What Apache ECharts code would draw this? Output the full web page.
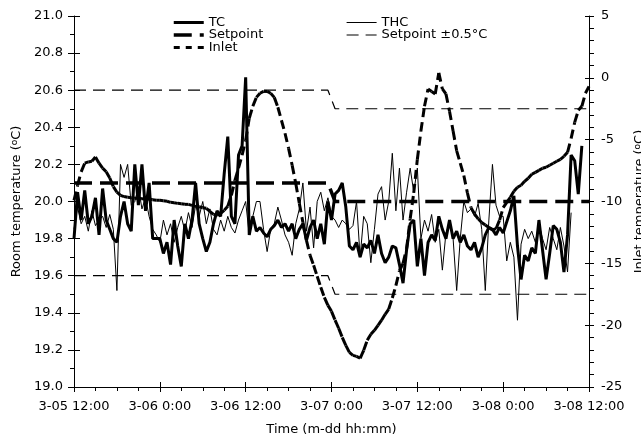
<!DOCTYPE html>
<html>
<head>
<meta charset="utf-8">
<script src="https://cdn.jsdelivr.net/npm/echarts@6/dist/echarts.min.js"></script>
<style>html,body{margin:0;padding:0;background:#fff}#c{width:641px;height:445px}</style>
</head>
<body>
<div id="c"></div>
<script>
// hours since 3-05 12:00, sampled every 0.5 h
var timeLabels = ['3-05 12:00','3-06 0:00','3-06 12:00','3-07 0:00','3-07 12:00','3-08 0:00','3-08 12:00'];
var stepHours = 0.5;

// TC room temperature (°C), left axis
var tc = [
 19.80,20.05,19.90,20.06,19.88,19.92,20.02,19.82,20.07,19.90,19.85,19.80,19.78,19.92,20.00,19.88,19.84,20.20,19.98,20.20,19.95,20.10,19.80,19.80,19.80,
 19.72,19.78,19.66,19.90,19.76,19.65,19.88,19.80,19.90,20.10,19.88,19.80,19.73,19.78,19.88,19.95,19.92,20.15,20.35,19.92,19.88,20.25,20.30,20.67,
 19.82,19.92,19.84,19.86,19.83,19.81,19.85,19.87,19.90,19.86,19.88,19.84,19.88,19.80,19.85,19.88,19.79,19.86,19.90,19.80,19.88,19.77,20.00,19.90,20.04,20.06,20.10,
 19.97,19.76,19.74,19.78,19.70,19.77,19.75,19.79,19.72,19.82,19.72,19.67,19.70,19.76,19.75,19.66,19.56,19.74,19.88,19.90,19.65,19.80,19.60,19.78,19.82,
 19.79,19.92,19.85,19.80,19.90,19.80,19.84,19.78,19.82,19.76,19.74,19.78,19.70,19.75,19.82,19.86,19.85,19.82,19.86,19.83,19.89,19.95,20.03,
 19.76,19.58,19.71,19.68,19.75,19.72,19.90,19.74,19.58,19.72,19.87,19.85,19.78,19.62,19.82,20.25,20.22,20.04,20.30,null,null,null,19.62,19.72,19.40
];

// THC room temperature (°C), left axis
var thc = [
 19.85,19.97,19.88,19.92,19.84,19.95,19.87,19.90,19.92,19.86,19.93,19.85,19.52,20.20,20.13,20.20,19.98,20.00,20.08,19.96,20.02,19.92,19.85,19.82,19.78,
 19.90,19.82,19.88,19.78,19.86,19.92,19.84,19.94,19.86,19.98,19.92,20.00,19.88,19.96,19.85,19.82,19.90,19.84,19.92,19.86,19.83,19.90,19.95,20.00,
 19.82,19.92,20.00,20.00,19.85,19.73,19.85,19.88,19.97,19.90,19.82,19.78,19.71,19.88,19.96,20.10,19.84,19.97,19.75,20.00,20.05,19.95,20.02,19.92,
 19.90,19.86,19.90,19.88,19.85,19.87,20.00,19.70,19.92,19.88,19.67,19.85,20.04,20.08,19.90,20.00,20.26,19.95,20.18,19.90,20.05,20.18,20.05,20.18,
 19.80,19.90,19.84,19.93,19.78,19.85,19.63,19.83,19.88,19.80,19.52,19.80,20.00,19.94,19.96,19.92,19.99,19.85,19.52,19.90,20.20,19.98,19.92,19.92,
 19.68,19.78,19.70,19.36,19.77,19.85,19.80,19.84,19.78,19.88,19.80,19.74,19.86,19.80,19.74,19.86,19.76,19.62,19.94,null,null,null,null,null
];

// Inlet temperature (°C), right axis
var inlet = [
 -9.9,-8.7,-7.6,-6.9,-6.8,-6.75,-6.4,-6.9,-7.3,-7.6,-8.1,-8.8,-9.25,-9.5,-9.6,-9.66,-9.7,-9.74,-9.74,-9.78,-9.8,-9.8,-9.86,-9.9,-9.9,
 -9.94,-9.98,-10.07,-10.1,-10.15,-10.19,-10.23,-10.23,-10.31,-10.39,-10.43,-10.51,-10.55,-10.79,-11.04,-11.12,-10.95,-10.71,-10.39,-9.5,-8.29,-7.3,-6.26,-5.05,
 -3.27,-2.3,-1.58,-1.25,-1.1,-1.1,-1.25,-1.58,-2.38,-3.43,-4.48,-5.7,-7.07,-8.53,-10.15,-11.68,-13.14,-14.35,-15.16,-16.05,-16.94,-17.75,-18.4,-18.88,
 -19.6,-20.25,-20.98,-21.63,-22.2,-22.44,-22.52,-22.68,-22.03,-21.22,-20.74,-20.42,-20.01,-19.6,-19.12,-18.7,-17.8,-16.8,-15.6,-15.0,-13.8,-11.4,-9.3,-6.6,
 -4.3,-2.3,-0.9,-1.1,-1.3,0.4,-0.9,-1.3,-2.7,-4.3,-5.9,-6.9,-7.9,-9.3,-10.5,-11.0,-11.4,-11.7,-11.9,-12.1,-12.3,-12.2,-11.5,-10.5,
 -10.07,-9.66,-9.17,-8.85,-8.69,-8.37,-8.12,-7.8,-7.64,-7.48,-7.31,-7.23,-7.07,-6.91,-6.75,-6.59,-6.35,-6.02,-4.9,-3.6,-2.63,-2.3,-1.25,-0.69
];

// setpoints (left axis): [hour, value]
var setpointHours = [0, 35.5, 36.5, 72];
var setpointVals = [20.1, 20.1, 20.0, 20.0];
var upperVals = [20.6, 20.6, 20.5, 20.5];
var lowerVals = [19.6, 19.6, 19.5, 19.5];

function pairs(arr) { return arr.map(function (v, i) { return [i * stepHours, v]; }); }
function spPairs(vals) { return setpointHours.map(function (h, i) { return [h, vals[i]]; }); }
var inletSegs = [];
for (var i = 0; i < inlet.length - 1; i++) {
  inletSegs.push([i * stepHours, inlet[i], (i + 1) * stepHours, inlet[i + 1]]);
}

var FONT = 'DejaVu Sans';
var black = '#000';
var clear = 'rgba(0,0,0,0)';
var chart = echarts.init(document.getElementById('c'), null, { renderer: 'canvas' });

var legendCommon = {
  orient: 'vertical', top: 11, itemWidth: 30, itemHeight: 10, itemGap: -0.5,
  textStyle: { fontFamily: FONT, fontSize: 13, color: black, lineHeight: 13 },
  itemStyle: { color: clear, borderColor: clear, borderWidth: 0 },
  lineStyle: { width: 'inherit' },
  selectedMode: false
};
function legendAt(left, names) {
  var o = JSON.parse(JSON.stringify(legendCommon));
  o.left = left; o.data = names; return o;
}

chart.setOption({
  animation: false,
  backgroundColor: '#fff',
  color: [black],
  textStyle: { fontFamily: FONT, color: black },
  grid: { left: 74, right: 52, top: 16, bottom: 58, containLabel: false, outerBoundsMode: 'none' },
  legend: [ legendAt(167, ['TC', 'Setpoint', 'Inlet']), legendAt(341, ['THC', 'Setpoint ±0.5°C']) ],
  xAxis: [
    {
      type: 'value', min: 0, max: 72, interval: 12,
      name: 'Time (m-dd hh:mm)', nameLocation: 'middle', nameGap: 36,
      nameTextStyle: { fontFamily: FONT, fontSize: 13, color: black },
      axisLine: { show: true, onZero: false, lineStyle: { color: black, width: 1 } },
      axisTick: { show: true, length: 5, lineStyle: { color: black } },
      minorTick: { show: true, splitNumber: 4, length: 4, lineStyle: { color: black } },
      splitLine: { show: false },
      axisLabel: { margin: 13, fontFamily: FONT, fontSize: 13, color: black,
        formatter: function (v) { return timeLabels[Math.round(v / 12)]; } }
    },
    {
      type: 'value', min: 0, max: 72, interval: 12, position: 'bottom',
      axisLine: { show: false, onZero: false },
      axisTick: { show: true, inside: true, length: 5, lineStyle: { color: black } },
      axisLabel: { show: false }, splitLine: { show: false }
    }
  ],
  yAxis: [
    {
      type: 'value', min: 19, max: 21, interval: 0.2, position: 'left',
      name: 'Room temperature ({s|o}C)', nameLocation: 'middle', nameGap: 47, nameRotate: 90,
      nameTextStyle: { fontFamily: FONT, fontSize: 13, color: black,
        rich: { s: { fontFamily: FONT, fontSize: 9, verticalAlign: 'top', padding: [0, 0, 4, 0] } } },
      axisLine: { show: true, onZero: false, lineStyle: { color: black, width: 1 } },
      axisTick: { show: true, length: 6, lineStyle: { color: black } },
      minorTick: { show: true, splitNumber: 2, length: 4, lineStyle: { color: black } },
      splitLine: { show: false },
      axisLabel: { margin: 11, fontFamily: FONT, fontSize: 13, color: black,
        formatter: function (v) { return v.toFixed(1); } }
    },
    {
      type: 'value', min: -25, max: 5, interval: 5, position: 'right',
      name: 'Inlet temperature ({s|o}C)', nameLocation: 'middle', nameGap: 39, nameRotate: 90,
      nameTextStyle: { fontFamily: FONT, fontSize: 13, color: black,
        rich: { s: { fontFamily: FONT, fontSize: 9, verticalAlign: 'top', padding: [0, 0, 4, 0] } } },
      axisLine: { show: true, onZero: false, lineStyle: { color: black, width: 1 } },
      axisTick: { show: true, length: 5, lineStyle: { color: black } },
      minorTick: { show: true, splitNumber: 5, length: 5, lineStyle: { color: black } },
      splitLine: { show: false },
      axisLabel: { margin: 12, fontFamily: FONT, fontSize: 13, color: black }
    },
    {
      type: 'value', min: 19, max: 21, interval: 0.2, position: 'left',
      axisLine: { show: false, onZero: false }, axisLabel: { show: false }, splitLine: { show: false },
      axisTick: { show: true, inside: true, length: 6, lineStyle: { color: black } }
    },
    {
      type: 'value', min: -25, max: 5, interval: 5, position: 'right',
      axisLine: { show: false, onZero: false }, axisLabel: { show: false }, splitLine: { show: false },
      axisTick: { show: true, inside: true, length: 4, lineStyle: { color: black } }
    }
  ],
  series: [
    { name: 'TC', type: 'line', data: pairs(tc), showSymbol: false, symbol: 'none',
      itemStyle: { color: black }, lineStyle: { color: black, width: 3 }, connectNulls: false, z: 5 },
    { name: 'THC', type: 'line', data: pairs(thc), showSymbol: false, symbol: 'none',
      itemStyle: { color: black }, lineStyle: { color: black, width: 1 }, z: 4 },
    { name: 'Setpoint', type: 'line', data: spPairs(setpointVals), showSymbol: false, symbol: 'none',
      itemStyle: { color: black }, lineStyle: { color: black, width: 3.5, type: [18, 8], cap: 'butt' }, z: 3 },
    { name: 'Setpoint ±0.5°C', type: 'line', data: spPairs(upperVals), showSymbol: false, symbol: 'none',
      itemStyle: { color: black }, lineStyle: { color: black, width: 1.2, type: [12, 7] }, z: 3 },
    { name: 'Setpoint ±0.5°C', type: 'line', data: spPairs(lowerVals), showSymbol: false, symbol: 'none',
      itemStyle: { color: black }, lineStyle: { color: black, width: 1.2, type: [12, 7] }, z: 3 },
    { name: 'Inlet', type: 'line', yAxisIndex: 1, data: [], showSymbol: false, symbol: 'none',
      itemStyle: { color: black }, lineStyle: { color: black, width: 3, type: [6, 6] } },
    { name: 'InletSegments', type: 'custom', yAxisIndex: 1, data: inletSegs,
      encode: { x: [0, 2], y: [1, 3] }, z: 4,
      renderItem: function (params, api) {
        var p1 = api.coord([api.value(0), api.value(1)]);
        var p2 = api.coord([api.value(2), api.value(3)]);
        return { type: 'line', shape: { x1: p1[0], y1: p1[1], x2: p2[0], y2: p2[1] },
          style: { stroke: black, fill: null, lineWidth: 3, lineDash: [9, 5], lineCap: 'butt' } };
      } }
  ]
});
</script>
</body>
</html>
